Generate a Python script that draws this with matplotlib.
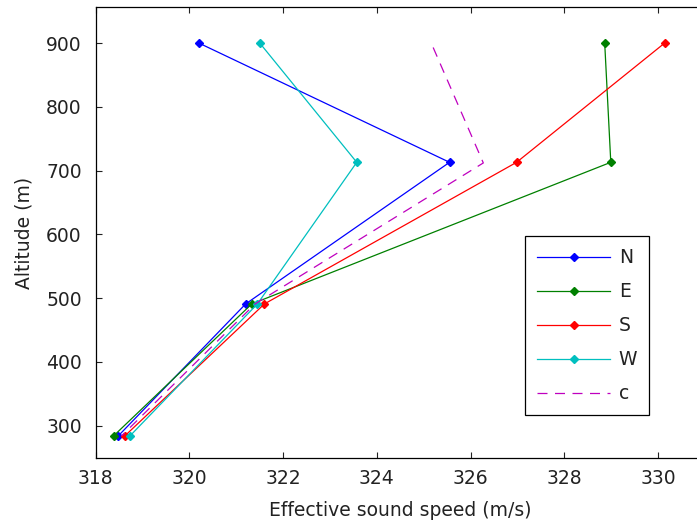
import matplotlib
matplotlib.use("Agg")
import matplotlib.pyplot as plt

# altitudes (m) for the four directions and the dashed "c" profile
altitude = [900, 713, 491, 284]
altitude_c = [893, 712, 491, 284]

# effective sound speed (m/s)
speed_n = [320.20, 325.55, 321.20, 318.48]
speed_e = [328.86, 328.99, 321.33, 318.38]
speed_s = [330.14, 326.98, 321.60, 318.62]
speed_w = [321.50, 323.57, 321.45, 318.73]
speed_c = [325.20, 326.27, 321.40, 318.55]

xticks = [318, 320, 322, 324, 326, 328, 330]
yticks = [300, 400, 500, 600, 700, 800, 900]

plt.rcParams["font.family"] = ["DejaVu Sans"]
fs = 13.5

W, H = 697, 524
fig = plt.figure(figsize=(W / 100, H / 100), dpi=100)
# axes extends past the right edge, as in the reference (cropped)
left, right, top, bottom = 95.7, 705.0, 7.3, 458.3
ax = fig.add_axes([left / W, 1 - bottom / H, (right - left) / W, (bottom - top) / H])

mk = dict(marker="D", markersize=4, linewidth=0.9)
ax.plot(speed_n, altitude, color=(0, 0, 1), label="N", **mk)
ax.plot(speed_e, altitude, color=(0, 0.5, 0), label="E", **mk)
ax.plot(speed_s, altitude, color=(1, 0, 0), label="S", **mk)
ax.plot(speed_w, altitude, color=(0, 0.75, 0.75), label="W", **mk)
ax.plot(speed_c, altitude_c, color=(0.75, 0, 0.75), linestyle=(0, (8, 6)),
        linewidth=0.9, label="c")

ax.set_xlim(318, 331)
ax.set_ylim(249, 956)
ax.set_xticks(xticks)
ax.set_yticks(yticks)
ax.tick_params(direction="in", length=4.3, width=0.8, top=True, right=True,
               labelsize=fs, colors="#222222")
ax.tick_params(axis="x", pad=8)
ax.tick_params(axis="y", pad=10)
for sp in ax.spines.values():
    sp.set_linewidth(0.9)
    sp.set_color("black")

ax.set_xlabel("Effective sound speed (m/s)", fontsize=fs, color="#222222", labelpad=9)
ax.set_ylabel("Altitude (m)", fontsize=fs, color="#222222", labelpad=9)

leg = ax.legend(loc="upper left", bbox_to_anchor=(525 / W, 1 - 236 / H),
                bbox_transform=fig.transFigure, borderaxespad=0,
                fancybox=False, framealpha=1, edgecolor="black",
                handlelength=3.9, handletextpad=0.45, labelspacing=0.8,
                borderpad=0.65, fontsize=fs)
leg.get_frame().set_linewidth(0.9)
for t in leg.get_texts():
    t.set_color("#222222")

fig.savefig("out.png", dpi=100)
